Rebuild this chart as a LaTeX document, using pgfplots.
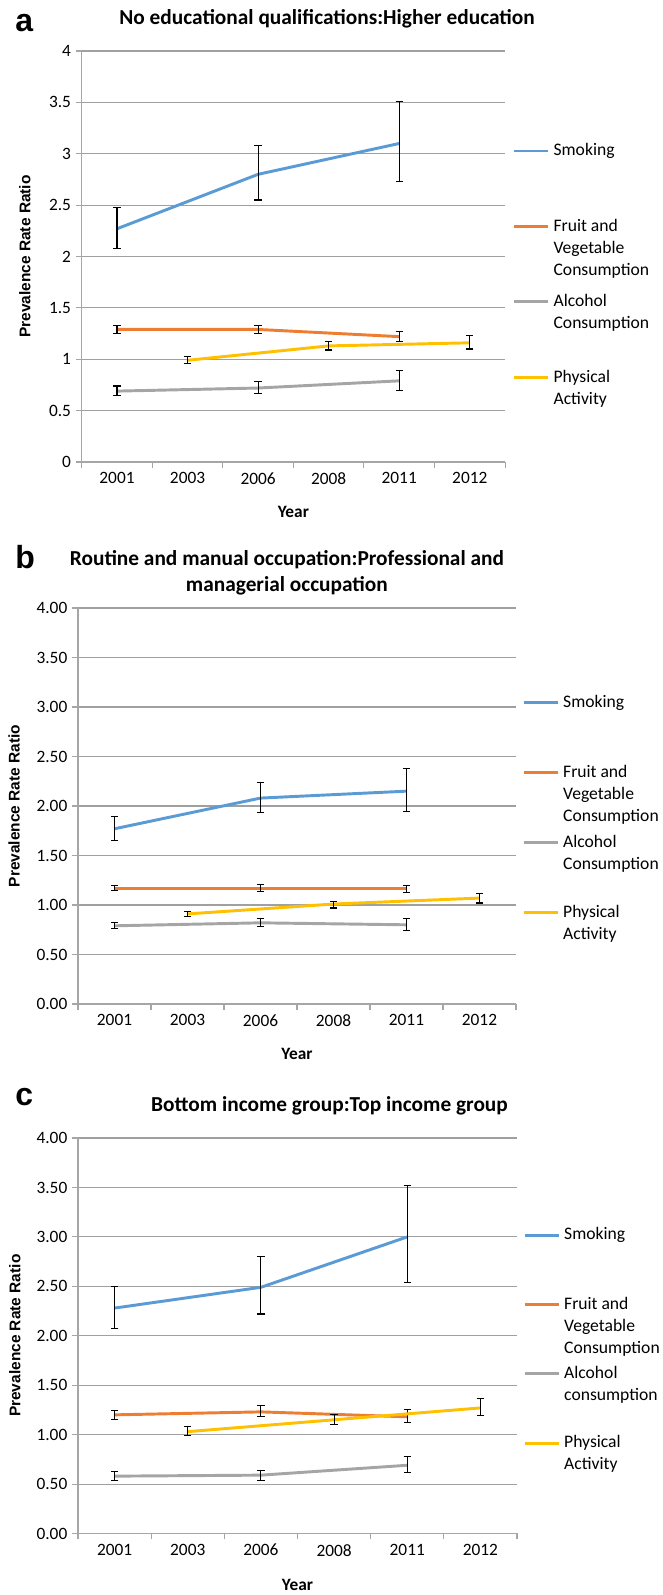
\documentclass[border=0pt]{standalone}
\usepackage{fontspec}
\setmainfont{Carlito}
\newfontfamily\arialfont{Liberation Sans}
\usepackage{pgfplots}
\usepackage{pgfplotstable}
\pgfplotsset{compat=1.18}

\definecolor{smk}{HTML}{5B9BD5}
\definecolor{frt}{HTML}{ED7D31}
\definecolor{alc}{HTML}{A5A5A5}
\definecolor{phy}{HTML}{FFC000}
\definecolor{gridc}{HTML}{A0A0A0}
\definecolor{axc}{HTML}{A6A6A6}

% x: 0=2001 1=2003 2=2006 3=2008 4=2011 5=2012
% s/f/a/p = smoking, fruit+veg, alcohol, physical; P/M = upper/lower error
\pgfplotstableread{
x  s    sP   sM   f    fP   fM   a    aP   aM   p    pP   pM
0  2.27 0.21 0.19 1.29 0.04 0.04 0.69 0.05 0.04 nan  nan  nan
1  nan  nan  nan  nan  nan  nan  nan  nan  nan  0.99 0.035 0.035
2  2.80 0.28 0.25 1.29 0.04 0.04 0.72 0.06 0.05 nan  nan  nan
3  nan  nan  nan  nan  nan  nan  nan  nan  nan  1.13 0.04 0.04
4  3.10 0.41 0.37 1.22 0.05 0.05 0.79 0.10 0.09 nan  nan  nan
5  nan  nan  nan  nan  nan  nan  nan  nan  nan  1.16 0.07 0.06
}\dataA

\pgfplotstableread{
x  s    sP   sM   f    fP   fM   a    aP   aM   p    pP   pM
0  1.77 0.12 0.12 1.17 0.03 0.02 0.79 0.03 0.03 nan  nan  nan
1  nan  nan  nan  nan  nan  nan  nan  nan  nan  0.91 0.02 0.03
2  2.08 0.16 0.15 1.17 0.04 0.03 0.82 0.04 0.04 nan  nan  nan
3  nan  nan  nan  nan  nan  nan  nan  nan  nan  1.01 0.03 0.04
4  2.15 0.23 0.21 1.17 0.03 0.04 0.80 0.06 0.06 nan  nan  nan
5  nan  nan  nan  nan  nan  nan  nan  nan  nan  1.07 0.05 0.05
}\dataB

\pgfplotstableread{
x  s    sP   sM   f    fP   fM   a    aP   aM   p    pP   pM
0  2.28 0.22 0.21 1.20 0.04 0.05 0.58 0.05 0.04 nan  nan  nan
1  nan  nan  nan  nan  nan  nan  nan  nan  nan  1.03 0.05 0.04
2  2.49 0.31 0.27 1.23 0.06 0.05 0.59 0.05 0.05 nan  nan  nan
3  nan  nan  nan  nan  nan  nan  nan  nan  nan  1.15 0.05 0.05
4  3.00 0.52 0.46 1.18 0.07 0.06 0.69 0.09 0.07 nan  nan  nan
5  nan  nan  nan  nan  nan  nan  nan  nan  nan  1.27 0.10 0.08
}\dataC

% legend text: first line on the baseline; the fixed text depth spaces entries evenly
\newcommand{\leg}[1]{\begin{tabular}[t]{@{}l@{}}#1\end{tabular}}

\pgfplotsset{
  excel/.style={
    scale only axis,
    clip=false,
    xmin=-0.5, xmax=5.5,
    ymin=0, ymax=4,
    ytick={0,0.5,...,4},
    xtick={-0.5,0.5,...,5.5},
    xticklabels={2001,2003,2006,2008,2011,2012},
    x tick label as interval,
    axis x line*=bottom,
    axis y line*=left,
    axis line style={axc, line width=0.8pt, -},
    tick style={axc, line width=0.8pt},
    tick align=outside,
    major tick length=4.5pt,
    ymajorgrids,
    grid style={gridc, line width=0.8pt},
    /pgf/number format/assume math mode=true,
    tick label style={font=\fontsize{13}{15}\selectfont},
    xlabel={Year},
    xlabel style={font=\bfseries\fontsize{13}{15}\selectfont, at={(axis description cs:0.5,0)}, anchor=center},
    ylabel={Prevalence Rate Ratio},
    ylabel style={font=\arialfont\bfseries\fontsize{11.6}{14}\selectfont, anchor=center},
    title style={font=\bfseries\fontsize{16}{19.5}\selectfont, anchor=center, align=center},
    legend image code/.code={\draw[##1] (0pt,3.5pt) -- (25.5pt,3.5pt);},
    legend style={draw=none, fill=none, inner sep=0pt, anchor=north west,
      column sep=3pt, row sep=0pt, cells={anchor=base west},
      nodes={inner sep=0pt, font=\fontsize{13.2}{16.5}\selectfont}},
    every axis plot/.append style={line width=2.2pt, no markers},
    error bars/y dir=both,
    error bars/y explicit,
    error bars/error bar style={black, line width=0.8pt},
    error bars/error mark options={black, rotate=90, mark size=2.75pt, line width=0.8pt},
  },
}

\begin{document}
\begin{tikzpicture}
\path[use as bounding box] (0,0) rectangle (496.5pt,-1196.25pt);

% ---- a ----
\begin{axis}[excel,
  at={(61.3pt,-346.5pt)}, anchor=south west,
  width=317.5pt, height=308.25pt,
  title={No educational qualifications:Higher education},
  title style={at={(axis description cs:0.5795,1)}, yshift=18pt},
  xlabel style={yshift=-37.5pt},
  ylabel style={at={(axis description cs:-0.1346,0.5)}},
  legend style={at={(1,1)}, xshift=5.5pt, yshift=-66.75pt,
    nodes={text depth=45.05pt}},
]
\addplot[smk] table[x=x, y=s, y error plus=sP, y error minus=sM] {\dataA};
\addlegendentry{\leg{Smoking}}
\addplot[frt] table[x=x, y=f, y error plus=fP, y error minus=fM] {\dataA};
\addlegendentry{\leg{Fruit and\\Vegetable\\Consumption}}
\addplot[alc] table[x=x, y=a, y error plus=aP, y error minus=aM] {\dataA};
\addlegendentry{\leg{Alcohol\\Consumption}}
\addplot[phy] table[x=x, y=p, y error plus=pP, y error minus=pM] {\dataA};
\addlegendentry{\leg{Physical\\Activity}}
\node[anchor=west, inner sep=0pt, font=\arialfont\bfseries\fontsize{24}{26}\selectfont,
  xshift=-50pt, yshift=21pt] at (axis description cs:0,1) {a};
\end{axis}

% ---- b ----
\begin{axis}[excel,
  at={(58.5pt,-753pt)}, anchor=south west,
  width=328.5pt, height=297pt,
  yticklabel style={/pgf/number format/.cd, fixed, fixed zerofill, precision=2},
  title={Routine and manual occupation:Professional and\\managerial occupation},
  title style={at={(axis description cs:0.477,1)}, yshift=20.25pt},
  xlabel style={yshift=-37.5pt},
  ylabel style={at={(axis description cs:-0.1461,0.5)}},
  legend style={at={(1,1)}, xshift=4.5pt, yshift=-62.5pt,
    nodes={text depth=40.95pt}},
]
\addplot[smk] table[x=x, y=s, y error plus=sP, y error minus=sM] {\dataB};
\addlegendentry{\leg{Smoking}}
\addplot[frt] table[x=x, y=f, y error plus=fP, y error minus=fM] {\dataB};
\addlegendentry{\leg{Fruit and\\Vegetable\\Consumption}}
\addplot[alc] table[x=x, y=a, y error plus=aP, y error minus=aM] {\dataB};
\addlegendentry{\leg{Alcohol\\Consumption}}
\addplot[phy] table[x=x, y=p, y error plus=pP, y error minus=pM] {\dataB};
\addlegendentry{\leg{Physical\\Activity}}
\node[anchor=west, inner sep=0pt, font=\arialfont\bfseries\fontsize{24}{26}\selectfont,
  xshift=-47.25pt, yshift=38.25pt] at (axis description cs:0,1) {b};
\end{axis}

% ---- c ----
\begin{axis}[excel,
  at={(58.5pt,-1150.1pt)}, anchor=south west,
  width=329.25pt, height=296.6pt,
  yticklabel style={/pgf/number format/.cd, fixed, fixed zerofill, precision=2},
  title={Bottom income group:Top income group},
  title style={at={(axis description cs:0.573,1)}, yshift=18.2pt},
  xlabel style={yshift=-38.6pt},
  ylabel style={at={(axis description cs:-0.1438,0.5)}},
  legend style={at={(1,1)}, xshift=4.5pt, yshift=-64.65pt,
    nodes={text depth=40.45pt}},
]
\addplot[smk] table[x=x, y=s, y error plus=sP, y error minus=sM] {\dataC};
\addlegendentry{\leg{Smoking}}
\addplot[frt] table[x=x, y=f, y error plus=fP, y error minus=fM] {\dataC};
\addlegendentry{\leg{Fruit and\\Vegetable\\Consumption}}
\addplot[alc] table[x=x, y=a, y error plus=aP, y error minus=aM] {\dataC};
\addlegendentry{\leg{Alcohol\\consumption}}
\addplot[phy] table[x=x, y=p, y error plus=pP, y error minus=pM] {\dataC};
\addlegendentry{\leg{Physical\\Activity}}
\node[anchor=west, inner sep=0pt, font=\arialfont\bfseries\fontsize{24}{26}\selectfont,
  xshift=-47.25pt, yshift=30.75pt] at (axis description cs:0,1) {c};
\end{axis}
\end{tikzpicture}
\end{document}
